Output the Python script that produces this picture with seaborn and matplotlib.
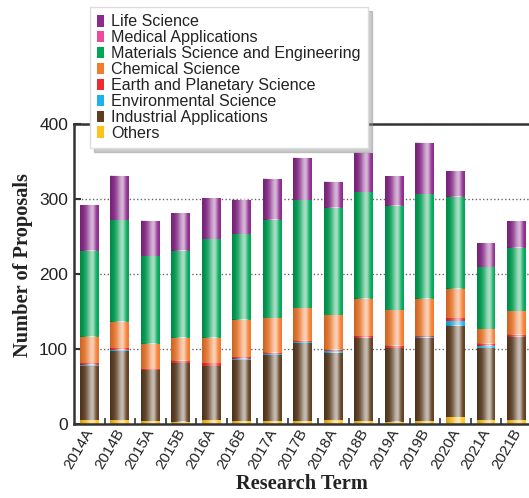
import numpy as np
import pandas as pd
import matplotlib.pyplot as plt
import matplotlib.transforms as mtransforms
from matplotlib.ticker import FixedLocator
import seaborn as sns

# values (proposals per research term)
terms = ['2014A', '2014B', '2015A', '2015B', '2016A', '2016B', '2017A', '2017B',
         '2018A', '2018B', '2019A', '2019B', '2020A', '2021A', '2021B']
categories = ['Life Science', 'Medical Applications', 'Materials Science and Engineering',
              'Chemical Science', 'Earth and Planetary Science', 'Environmental Science',
              'Industrial Applications', 'Others']

life_science = [61, 59, 47, 50, 54, 46, 55, 56, 35, 52, 40, 68, 34, 32, 36]
medical = [0, 0, 0, 0, 0, 0, 0, 0, 0, 0, 0, 0, 0, 0, 0]
materials = [115, 136, 117, 116, 132, 114, 131, 144, 143, 142, 139, 140, 123, 82, 84]
chemical = [34, 35, 34, 31, 34, 50, 46, 44, 46, 50, 48, 50, 38, 20, 32]
earth = [3, 2, 1, 3, 4, 2, 2, 1, 2, 2, 3, 1, 5, 3, 3]
environmental = [2, 2, 0, 0, 0, 2, 1, 2, 2, 0, 0, 1, 6, 3, 0]
industrial = [72, 92, 68, 78, 72, 81, 88, 104, 90, 111, 98, 111, 122, 96, 111]
others = [5, 5, 4, 3, 5, 4, 4, 4, 5, 4, 3, 4, 9, 5, 5]

colors = ['#8c2a8d', '#ec4a9a', '#00a656', '#f47a2c', '#ee2a30', '#1cb2ec', '#5e3f22', '#ffc21c']
palette = dict(zip(categories, colors))

series = [life_science, medical, materials, chemical, earth, environmental, industrial, others]
rows = []
for cat, vals in zip(categories, series):
    for t, v in zip(terms, vals):
        rows.append({'term': t, 'category': cat, 'count': v})
df = pd.DataFrame(rows)

sns.set_style('ticks')
plt.rcParams['font.family'] = ['Liberation Sans', 'DejaVu Sans']

fig = plt.figure(figsize=(5.29, 4.98), dpi=100)
ax = fig.add_axes([74 / 529, 74 / 498, (531.75 - 74) / 529, 300 / 498])

# seaborn stacks the last hue level at the bottom
sns.histplot(data=df, x='term', weights='count', hue='category', hue_order=categories,
             multiple='stack', discrete=True, shrink=0.62, palette=palette,
             alpha=1, linewidth=0, ax=ax)

# cylinder-like shine on every bar
nx = 80
t = np.linspace(0, 1, nx)
shine = np.where(t < 0.66,
                 0.66 * np.exp(-((t - 0.66) / 0.30) ** 2),
                 0.66 * np.exp(-((t - 0.66) / 0.16) ** 2))
light = np.zeros((1, nx, 4))
light[..., :3] = 1
light[0, :, 3] = shine
shade = np.zeros((1, nx, 4))
shade[0, :, 3] = 0.18 * (1 - t) ** 3
for p in list(ax.patches):
    if p.get_height() <= 0:
        continue
    x0, y0, w, h = p.get_x(), p.get_y(), p.get_width(), p.get_height()
    for img in (light, shade):
        ax.imshow(img, extent=[x0, x0 + w, y0, y0 + h], aspect='auto',
                  interpolation='bilinear', zorder=p.get_zorder() + 0.01)

ax.set_xlim(-0.5, 14.5)
ax.set_ylim(0, 400)

# axes styling
for side in ['left', 'bottom', 'top', 'right']:
    ax.spines[side].set_linewidth(1.8)
    ax.spines[side].set_color('#333333')

ax.set_yticks([0, 100, 200, 300, 400])
ax.tick_params(axis='y', direction='in', length=5, width=1.5, labelsize=12.5,
               pad=4.3, labelcolor='#222222', color='#333333')
ax.set_xticks(range(len(terms)))
ax.set_xticklabels(terms, rotation=60, ha='right', va='top', fontsize=11, color='#222222')
ax.tick_params(axis='x', which='major', length=0, pad=2)
ax.xaxis.set_minor_locator(FixedLocator(np.arange(0.5, 14.5, 1)))
ax.tick_params(axis='x', which='minor', direction='in', length=4, width=1.2, color='#333333')
offset = mtransforms.ScaledTranslation(0.07, 0, fig.dpi_scale_trans)
for lbl in ax.get_xticklabels():
    lbl.set_transform(lbl.get_transform() + offset)

ax.yaxis.grid(True, linestyle=':', color='#666666', linewidth=1.0)
ax.set_axisbelow(True)

ax.set_ylabel('Number of Proposals', fontfamily='Liberation Serif', fontweight='bold',
              fontsize=14.7, color='#222222')
ax.yaxis.set_label_coords(-0.0896, 0.53)
ax.set_xlabel('Research Term', fontfamily='Liberation Serif', fontweight='bold',
              fontsize=14.7, color='#222222')
ax.xaxis.set_label_coords(0.498, -0.168)

sns.move_legend(ax, 'upper left', bbox_to_anchor=(90 / 529, 1 - 7 / 498),
                bbox_transform=fig.transFigure, borderaxespad=0, title=None,
                frameon=True, fancybox=False, edgecolor='#dddddd', framealpha=1,
                fontsize=11.6, labelcolor='#222222', labelspacing=0.06,
                handlelength=0.4, handleheight=0.75, handletextpad=0.45,
                borderpad=0.45,
                shadow={'ox': 3, 'oy': -3, 'color': '0.55', 'alpha': 0.45})

fig.savefig('out.png', dpi=100)
